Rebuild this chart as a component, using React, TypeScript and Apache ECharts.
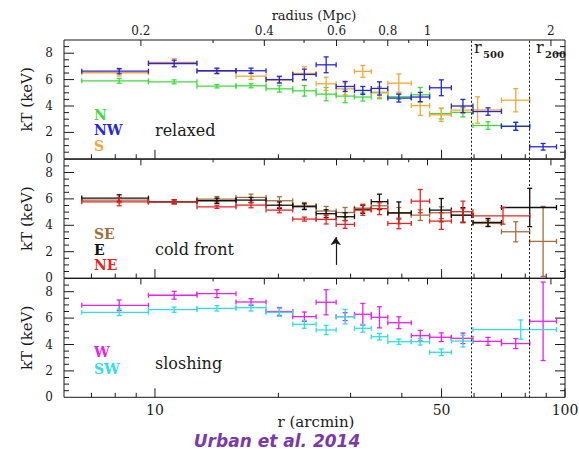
import React, { useEffect, useRef } from "react";
import * as echarts from "echarts";

// ---------- data ----------
// radial bins in arcmin
const binLo = [6.63, 9.64, 12.66, 15.76, 18.66, 21.68, 24.72, 27.66, 30.66, 33.69, 36.97, 42.18, 46.75, 52.82, 59.64, 69.98, 82.03];
const binHi = [9.64, 12.66, 15.76, 18.66, 21.68, 24.72, 27.66, 30.66, 33.69, 36.97, 42.18, 46.75, 52.82, 59.64, 69.98, 82.03, 95.33];
const binMid = [8.18, 11.14, 14.16, 17.15, 20.11, 23.14, 26.15, 29.09, 32.13, 35.28, 39.33, 44.36, 49.93, 56.38, 64.9, 75.84, 88.43];

// relaxed panel
const N_kT = [5.91, 5.83, 5.5, 5.53, 5.3, 5.15, 4.9, 4.75, 4.68, 5.0, 4.7, 4.85, 3.42, 3.52, 2.52, 2.47, null];
const N_err = [0.18, 0.15, 0.13, 0.15, 0.25, 0.4, 0.5, 0.5, 0.3, 0.45, 0.2, 0.55, 0.4, 0.35, 0.28, 0.3, null];
const NW_kT = [6.64, 7.22, 6.67, 6.67, 6.0, 6.39, 7.12, 5.48, 5.18, 5.33, 4.6, 4.68, 5.38, 4.0, 3.58, 2.46, 0.91];
const NW_err = [0.2, 0.25, 0.2, 0.2, 0.25, 0.4, 0.6, 0.38, 0.3, 0.5, 0.3, 0.35, 0.6, 0.5, 0.28, 0.3, 0.25];
const S_kT = [6.52, 7.3, 6.62, 6.26, 5.96, 6.47, 5.68, 5.3, 6.62, 5.05, 5.73, 4.03, 3.33, 3.69, null, null, null];
const S_err = [0.25, 0.3, 0.2, 0.25, 0.25, 0.5, 0.5, 0.45, 0.45, 0.4, 0.7, 0.75, 0.5, 0.25, null, null, null];
// [r, rLo, rHi, kT, err]
const S_extra = [[61.2, 59.64, 69.98, 3.7, 1.0], [75.84, 69.98, 82.03, 4.44, 0.88]];

// cold front panel
const SE_kT = [5.91, 5.8, 5.98, 6.11, 5.86, 5.48, 5.08, 4.97, 5.3, 5.48, 4.9, 4.77, 4.95, 4.75, 4.14, 3.51, 2.78];
const SE_err = [0.2, 0.15, 0.2, 0.25, 0.3, 0.25, 0.35, 0.38, 0.3, 0.3, 0.45, 0.4, 0.45, 0.5, 0.25, 0.76, 2.65];
const E_kT = [6.06, 5.78, 5.86, 5.91, 5.52, 5.41, 4.88, 4.65, 5.2, 5.79, 4.95, null, 5.15, 4.77, 4.22, null, null];
const E_err = [0.25, 0.15, 0.2, 0.2, 0.25, 0.22, 0.3, 0.3, 0.3, 0.57, 0.82, null, 0.88, 0.57, 0.3, null, null];
const E_extra = [[82.03, 69.98, 95.33, 5.35, 1.45]];
const NE_kT = [5.78, 5.78, 5.4, 5.53, 5.15, 4.47, 4.45, 4.07, 5.15, 5.26, 4.14, 5.83, 4.32, 5.03, null, null, null];
const NE_err = [0.3, 0.15, 0.12, 0.2, 0.2, 0.15, 0.35, 0.3, 0.4, 0.45, 0.4, 0.88, 0.63, 0.8, null, null, null];
const NE_extra = [[70.6, 59.64, 82.03, 4.72, 0.63]];

// sloshing panel
const W_kT = [6.97, 7.73, 7.85, 7.22, 6.5, 6.11, 7.2, 6.11, 6.29, 6.06, 5.65, 4.67, 4.55, 4.47, 4.24, 4.07, 5.76];
const W_err = [0.4, 0.3, 0.3, 0.25, 0.3, 0.35, 0.95, 0.3, 0.82, 0.8, 0.45, 0.4, 0.33, 0.4, 0.3, 0.38, 2.97];
const SW_kT = [6.44, 6.64, 6.74, 6.79, 6.44, 5.53, 5.1, 6.11, 5.23, 4.59, 4.21, 4.21, 3.41, 4.26, null, null, null];
const SW_err = [0.25, 0.2, 0.2, 0.25, 0.3, 0.3, 0.35, 0.55, 0.3, 0.25, 0.2, 0.25, 0.25, 0.45, null, null, null];
const SW_extra = [[78.0, 59.64, 95.33, 5.13, 0.73]];

// axes / annotations
const xMajorTicks = [10, 50, 100];
const xMinorTicks = [7, 8, 9, 20, 30, 40, 60, 70, 80, 90];
const xTickLabels = ["10", "50", "100"];
const mpcMajor = [0.2, 0.4, 0.6, 0.8, 1, 2];
const mpcMinor = [0.3, 0.5, 0.7, 0.9];
const mpcLabels = ["0.2", "0.4", "0.6", "0.8", "1", "2"];
const yMajorTicks = [2, 4, 6, 8];
const yMinorTicks = [0.5, 1, 1.5, 2.5, 3, 3.5, 4.5, 5, 5.5, 6.5, 7, 7.5, 8.5];
const ARCMIN_PER_MPC = 46.2;
const R500 = 59.1;
const R200 = 82.0;
const coldFrontR = 27.6;
const arrowFrom = 1.0;
const arrowTo = 3.1;

const FONT = '"DejaVu Serif", serif';
const INK = "#1a1a1a";

const COLORS = {
  N: "#3fdc3f",
  NW: "#2626dc",
  S: "#f2a73a",
  SE: "#a26f3c",
  E: "#111111",
  NE: "#e82323",
  W: "#e623e6",
  SW: "#33dede",
};

function makeData(kT: (number | null)[], err: (number | null)[], extra: number[][] = []) {
  const out: number[][] = [];
  kT.forEach((k, i) => {
    if (k == null) return;
    out.push([binMid[i], binLo[i], binHi[i], k, (err[i] as number) || 0]);
  });
  extra.forEach((e) => out.push(e));
  return out;
}

function errRender(color: string) {
  return (params: any, api: any) => {
    const r = api.value(0), lo = api.value(1), hi = api.value(2), k = api.value(3), e = api.value(4);
    const c = api.coord([r, k]);
    const a = api.coord([lo, k]);
    const b = api.coord([hi, k]);
    const st = () => ({ stroke: color, lineWidth: 1.3 });
    const ch: any[] = [
      { type: "line", shape: { x1: a[0], y1: c[1], x2: b[0], y2: c[1] }, style: st() },
      { type: "line", shape: { x1: a[0], y1: c[1] - 2.5, x2: a[0], y2: c[1] + 2.5 }, style: st() },
      { type: "line", shape: { x1: b[0], y1: c[1] - 2.5, x2: b[0], y2: c[1] + 2.5 }, style: st() },
    ];
    if (e > 0) {
      const t = api.coord([r, k + e]);
      const d = api.coord([r, k - e]);
      ch.push({ type: "line", shape: { x1: c[0], y1: t[1], x2: c[0], y2: d[1] }, style: st() });
      ch.push({ type: "line", shape: { x1: c[0] - 2.5, y1: t[1], x2: c[0] + 2.5, y2: t[1] }, style: st() });
      ch.push({ type: "line", shape: { x1: c[0] - 2.5, y1: d[1], x2: c[0] + 2.5, y2: d[1] }, style: st() });
    }
    return { type: "group", children: ch };
  };
}

function tickRender(showTop: boolean, showBottom: boolean) {
  return (params: any, api: any) => {
    const ch: any[] = [];
    const L = (x1: number, y1: number, x2: number, y2: number) =>
      ch.push({ type: "line", shape: { x1, y1, x2, y2 }, style: { stroke: INK, lineWidth: 1 } });
    const yb = api.coord([10, 0])[1];
    const yt = api.coord([10, 9])[1];
    const xl = api.coord([6, 0])[0];
    const xr = api.coord([100, 0])[0];
    xMajorTicks.forEach((v) => { const x = api.coord([v, 0])[0]; L(x, yb, x, yb - 9); });
    xMinorTicks.forEach((v) => { const x = api.coord([v, 0])[0]; L(x, yb, x, yb - 4.5); });
    mpcMajor.forEach((m) => { const x = api.coord([m * ARCMIN_PER_MPC, 0])[0]; L(x, yt, x, yt + 6); });
    mpcMinor.forEach((m) => { const x = api.coord([m * ARCMIN_PER_MPC, 0])[0]; L(x, yt, x, yt + 3); });
    yMajorTicks.forEach((v) => { const y = api.coord([10, v])[1]; L(xl, y, xl + 10, y); L(xr, y, xr - 10, y); });
    yMinorTicks.forEach((v) => { const y = api.coord([10, v])[1]; L(xl, y, xl + 5, y); L(xr, y, xr - 5, y); });
    if (showTop) {
      mpcMajor.forEach((m, i) => {
        const x = api.coord([m * ARCMIN_PER_MPC, 0])[0];
        ch.push({
          type: "text", x, y: yt - 3,
          style: { text: mpcLabels[i], fill: INK, fontFamily: FONT, fontSize: 12, align: "center", verticalAlign: "bottom" },
        });
      });
    }
    if (showBottom) {
      xMajorTicks.forEach((v, i) => {
        const x = api.coord([v, 0])[0];
        ch.push({
          type: "text", x, y: yb + 6,
          style: { text: xTickLabels[i], fill: INK, fontFamily: FONT, fontSize: 14, align: "center", verticalAlign: "top" },
        });
      });
    }
    return { type: "group", children: ch };
  };
}

const TOPS = [40, 159.3, 278.5];
const PH = 118.8;

export default function App() {
  const ref = useRef<HTMLDivElement>(null);
  useEffect(() => {
    document.body.style.margin = "0";
    const chart = echarts.init(ref.current!, undefined, { renderer: "svg" });

    const grid = TOPS.map((t) => ({
      left: 64, width: 501, top: t, height: PH, show: true,
      borderColor: INK, borderWidth: 1, backgroundColor: "transparent",
    }));
    const xAxis = TOPS.map((_, i) => ({
      gridIndex: i, type: "log", logBase: 10, min: 6, max: 100,
      axisLine: { show: false }, axisTick: { show: false }, axisLabel: { show: false }, splitLine: { show: false },
    }));
    const yAxis = TOPS.map((_, i) => ({
      gridIndex: i, type: "value", min: 0, max: 9, interval: 2,
      axisLine: { show: false }, axisTick: { show: false }, splitLine: { show: false },
      axisLabel: {
        formatter: (v: number) => (v % 2 === 0 && v < 9 ? String(v) : ""),
        fontFamily: FONT, fontSize: 12, color: INK, margin: 11,
      },
      name: "kT (keV)", nameLocation: "middle", nameGap: 30, nameRotate: 90,
      nameTextStyle: { fontFamily: FONT, fontSize: 15, color: INK },
    }));

    const series: any[] = [];
    TOPS.forEach((_, i) => {
      series.push({
        type: "custom", xAxisIndex: i, yAxisIndex: i, clip: false, silent: true,
        data: [[10, 4]], renderItem: tickRender(i === 0, i === 2), z: 5,
      });
      series.push({
        type: "line", xAxisIndex: i, yAxisIndex: i, data: [[10, 4]], symbol: "none",
        lineStyle: { width: 0 }, silent: true,
        markLine: {
          silent: true, symbol: ["none", "none"], label: { show: false },
          lineStyle: { type: [2, 2], color: INK, width: 1 },
          data: [{ xAxis: R500 }, { xAxis: R200 }],
        },
      });
    });
    // arrow marking the cold front
    series.push({
      type: "line", xAxisIndex: 1, yAxisIndex: 1, data: [[10, 4]], symbol: "none",
      lineStyle: { width: 0 }, silent: true,
      markLine: {
        silent: true, symbol: ["none", "arrow"], symbolSize: 8, label: { show: false },
        lineStyle: { type: "solid", color: INK, width: 1.2 },
        data: [[{ coord: [coldFrontR, arrowFrom] }, { coord: [coldFrontR, arrowTo] }]],
      },
    });

    const addErr = (gi: number, color: string, data: number[][]) =>
      series.push({
        type: "custom", xAxisIndex: gi, yAxisIndex: gi, silent: true,
        encode: { x: 0, y: 3 }, data, renderItem: errRender(color), clip: false,
      });

    addErr(0, COLORS.N, makeData(N_kT, N_err));
    addErr(0, COLORS.S, makeData(S_kT, S_err, S_extra));
    addErr(0, COLORS.NW, makeData(NW_kT, NW_err));
    addErr(1, COLORS.SE, makeData(SE_kT, SE_err));
    addErr(1, COLORS.E, makeData(E_kT, E_err, E_extra));
    addErr(1, COLORS.NE, makeData(NE_kT, NE_err, NE_extra));
    addErr(2, COLORS.W, makeData(W_kT, W_err));
    addErr(2, COLORS.SW, makeData(SW_kT, SW_err, SW_extra));

    const txt = (left: number, y: number, text: string, fill: string, size: number, weight: any = "normal") => ({
      type: "text", left, top: y - size / 2 - 1, silent: true,
      style: { text, fill, fontFamily: FONT, fontSize: size, fontWeight: weight },
    });

    const graphic: any[] = [
      { type: "text", x: 314, y: 15, silent: true,
        style: { text: "radius (Mpc)", fill: INK, fontFamily: FONT, fontSize: 13, align: "center", verticalAlign: "middle" } },
      { type: "text", x: 316, y: 422, silent: true,
        style: { text: "r (arcmin)", fill: INK, fontFamily: FONT, fontSize: 15, align: "center", verticalAlign: "middle" } },
      { type: "text", x: 277, y: 441, silent: true,
        style: { text: "Urban et al. 2014", fill: "#7a3aa8", fontFamily: '"DejaVu Sans", sans-serif', fontSize: 17,
          fontWeight: "bold", fontStyle: "italic", align: "center", verticalAlign: "middle" } },
      // r500 / r200
      txt(474, 48, "r", INK, 16),
      txt(483, 55, "500", INK, 10, "bold"),
      txt(536, 48, "r", INK, 16),
      txt(545, 55, "200", INK, 10, "bold"),
      // panel 1
      txt(94, 116, "N", COLORS.N, 14, "bold"),
      txt(94, 131, "NW", COLORS.NW, 14, "bold"),
      txt(94, 147, "S", COLORS.S, 14, "bold"),
      txt(155, 131, "relaxed", INK, 16),
      // panel 2
      txt(94, 235, "SE", COLORS.SE, 14, "bold"),
      txt(94, 251, "E", COLORS.E, 14, "bold"),
      txt(94, 266, "NE", COLORS.NE, 14, "bold"),
      txt(155, 250, "cold front", INK, 16),
      // panel 3
      txt(94, 353, "W", COLORS.W, 14, "bold"),
      txt(94, 370, "SW", COLORS.SW, 14, "bold"),
      txt(155, 364, "sloshing", INK, 16),
    ];

    chart.setOption({
      animation: false,
      backgroundColor: "#ffffff",
      grid, xAxis, yAxis, series, graphic,
    });
    return () => chart.dispose();
  }, []);
  return <div ref={ref} style={{ width: 579, height: 451 }} />;
}
